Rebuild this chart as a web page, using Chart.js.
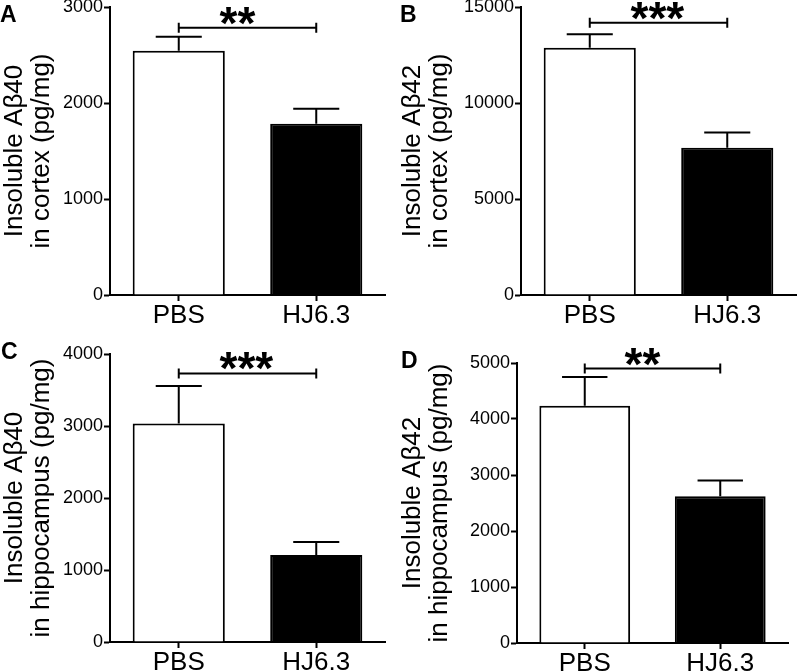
<!DOCTYPE html>
<html>
<head>
<meta charset="utf-8">
<script src="https://cdn.jsdelivr.net/npm/chart.js@4.4.1/dist/chart.umd.min.js"></script>
<style>
body { margin: 0; background: #fff; width: 797px; height: 672px; overflow: hidden; position: relative; font-family: "Liberation Sans", Arial, sans-serif; }
canvas { position: absolute; }
.lbl { position: absolute; font-weight: bold; font-size: 23px; line-height: 1; }
</style>
</head>
<body>
<canvas id="pA"></canvas>
<canvas id="pB"></canvas>
<canvas id="pC"></canvas>
<canvas id="pD"></canvas>
<div class="lbl" style="left:0px;top:3px">A</div>
<div class="lbl" style="left:400px;top:3px">B</div>
<div class="lbl" style="left:1px;top:340px">C</div>
<div class="lbl" style="left:401px;top:349px">D</div>
<script>
// groups on the x axis
const groups = ['PBS', 'HJ6.3'];

// mean and error (pg/mg)
const cortex40 = [2545, 1785];
const cortex40Err = [145, 155];
const cortex42 = [12880, 7670];
const cortex42Err = [700, 800];
const hippo40 = [3035, 1210];
const hippo40Err = [520, 180];
const hippo42 = [4235, 2620];
const hippo42Err = [515, 280];

// y axis ranges
const yMaxes = [3000, 15000, 4000, 5000];
const ySteps = [1000, 5000, 1000, 1000];

// significance marks and the level of their bracket (data units)
const stars = ['**', '***', '***', '**'];
const bracketLevels = [2785, 14180, 3730, 4900];

const FONT = '"Liberation Sans", Arial, sans-serif';

// error bars + significance bracket
const errorBars = {
    id: 'errorBars',
    afterDatasetsDraw(chart, args, opts) {
        const ctx = chart.ctx;
        const x = chart.scales.x, y = chart.scales.y;
        const meta = chart.getDatasetMeta(0);
        const vals = chart.data.datasets[0].data;
        ctx.save();
        ctx.strokeStyle = '#000';
        ctx.lineWidth = 2;
        meta.data.forEach((bar, i) => {
            const top = y.getPixelForValue(vals[i] + opts.err[i]);
            const half = bar.width / 4;
            ctx.beginPath();
            ctx.moveTo(bar.x, bar.y);
            ctx.lineTo(bar.x, top);
            ctx.moveTo(bar.x - half, top);
            ctx.lineTo(bar.x + half, top);
            ctx.stroke();
        });
        const by = y.getPixelForValue(opts.level);
        const x0 = x.getPixelForValue(0), x1 = x.getPixelForValue(1);
        ctx.beginPath();
        ctx.moveTo(x0, by); ctx.lineTo(x1, by);
        ctx.moveTo(x0, by - 5); ctx.lineTo(x0, by + 5);
        ctx.moveTo(x1, by - 5); ctx.lineTo(x1, by + 5);
        ctx.stroke();
        // stars start at the same spot for ** and ***
        ctx.fillStyle = '#000';
        ctx.font = 'bold 46px ' + FONT;
        ctx.textAlign = 'left';
        ctx.textBaseline = 'alphabetic';
        ctx.fillText(opts.stars, (x0 + x1) / 2 - 28, by + 11);
        ctx.restore();
    }
};

function makePanel(p, values, errs, idx, title) {
    const cv = document.getElementById(p.id);
    cv.width = p.w; cv.height = p.h;
    cv.style.left = p.left + 'px';
    cv.style.top = p.top + 'px';
    new Chart(cv.getContext('2d'), {
        type: 'bar',
        data: {
            labels: groups,
            datasets: [{
                data: values,
                backgroundColor: ['#ffffff', '#000000'],
                borderColor: '#000',
                borderWidth: 2,
                barPercentage: 0.67,
                categoryPercentage: 1.0
            }]
        },
        options: {
            responsive: false,
            animation: false,
            layout: {
                padding: { left: 0, bottom: 0, top: p.area.t - p.top, right: p.left + p.w - p.area.r }
            },
            plugins: {
                legend: { display: false },
                tooltip: { enabled: false },
                errorBars: { err: errs, stars: stars[idx], level: bracketLevels[idx] }
            },
            scales: {
                x: {
                    grid: { display: true, drawOnChartArea: false, offset: false, tickLength: 6, tickWidth: 2, tickColor: '#000' },
                    border: { display: true, color: '#000', width: 2 },
                    ticks: { color: '#000', padding: 0, font: { family: FONT, size: 26, lineHeight: 1.15 } },
                    afterFit: (s) => { s.height = p.top + p.h - p.area.b; }
                },
                y: {
                    min: 0,
                    max: yMaxes[idx],
                    ticks: { stepSize: ySteps[idx], color: '#000', padding: 1, font: { family: FONT, size: 18 }, callback: (v) => String(v) },
                    grid: { display: true, drawOnChartArea: false, tickLength: 6, tickWidth: 2, tickColor: '#000' },
                    border: { display: true, color: '#000', width: 2 },
                    title: {
                        display: true,
                        text: title,
                        color: '#000',
                        padding: { top: 1, bottom: 0 },
                        font: { family: FONT, size: 26, lineHeight: 1.05 }
                    },
                    afterFit: (s) => { s.width = p.area.l - p.left; }
                }
            }
        },
        plugins: [errorBars]
    });
}

makePanel({ id: 'pA', left: 0, top: -20, w: 398, h: 350, area: { l: 110, t: 7, r: 385, b: 295 } },
    cortex40, cortex40Err, 0, ['Insoluble A\u03b240', 'in cortex (pg/mg)']);
makePanel({ id: 'pB', left: 398, top: -20, w: 399, h: 350, area: { l: 521, t: 7, r: 796, b: 295 } },
    cortex42, cortex42Err, 1, ['Insoluble A\u03b242', 'in cortex (pg/mg)']);
makePanel({ id: 'pC', left: 0, top: 310, w: 398, h: 362, area: { l: 110, t: 354, r: 385, b: 642 } },
    hippo40, hippo40Err, 2, ['Insoluble A\u03b240', 'in hippocampus (pg/mg)']);
makePanel({ id: 'pD', left: 398, top: 310, w: 399, h: 362, area: { l: 517, t: 363, r: 788, b: 643 } },
    hippo42, hippo42Err, 3, ['Insoluble A\u03b242', 'in hippocampus (pg/mg)']);
</script>
</body>
</html>
